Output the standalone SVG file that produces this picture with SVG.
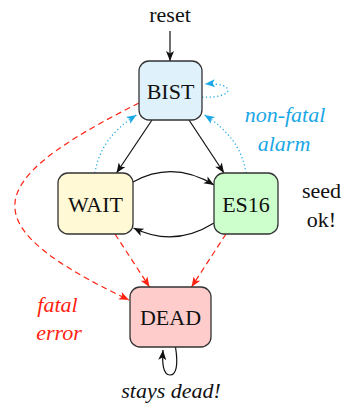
<svg xmlns="http://www.w3.org/2000/svg" width="346" height="406" viewBox="0 0 346 406">
<style>
text{font-size:22px;text-anchor:middle;fill:#111}
.it{font-style:italic}
.node{stroke:#333;stroke-width:1.3}
.k{fill:none;stroke:#111;stroke-width:1.2}
.r{fill:none;stroke:#f21;stroke-width:1.2;stroke-dasharray:6 4}
.b{fill:none;stroke:#1aa7e6;stroke-width:1.3;stroke-dasharray:1.2 2.6}
</style>
<defs>
<marker id="ak" markerUnits="userSpaceOnUse" markerWidth="11" markerHeight="9" refX="10" refY="4" orient="auto" overflow="visible"><path d="M0,0 L10,4 L0,8 L2.5,4 z" fill="#111"/></marker>
<marker id="ar" markerUnits="userSpaceOnUse" markerWidth="11" markerHeight="9" refX="10" refY="4" orient="auto" overflow="visible"><path d="M0,0 L10,4 L0,8 L2.5,4 z" fill="#f21"/></marker>
<marker id="ab" markerUnits="userSpaceOnUse" markerWidth="11" markerHeight="9" refX="10" refY="4" orient="auto" overflow="visible"><path d="M0,0 L10,4 L0,8 L2.5,4 z" fill="#1aa7e6"/></marker>
</defs>
<g id="connectors">
<path class="k" d="M170,31 L170,61" marker-end="url(#ak)"/>
<path class="k" d="M152,120 L116.5,173" marker-end="url(#ak)"/>
<path class="k" d="M189,120 L224,173" marker-end="url(#ak)"/>
<path class="k" d="M133,182 Q173,160 214,185" marker-end="url(#ak)"/>
<path class="k" d="M214,223 Q174,248 133.5,228" marker-end="url(#ak)"/>
<path class="k" d="M175.5,347 C178.5,366 176,375 170,375 C163,375 162,363 163,350" marker-end="url(#ak)"/>
<path class="r" d="M115,234 L149.5,287" marker-end="url(#ar)"/>
<path class="r" d="M226,234 L191.5,287" marker-end="url(#ar)"/>
<path class="r" d="M139,103 C-21,183 -28.5,225 129,300" marker-end="url(#ar)"/>
<path class="b" d="M202,97 C236,99 236,82 205,84" marker-end="url(#ab)"/>
<path class="b" d="M95,173 Q100,138 136.5,115" marker-end="url(#ab)"/>
<path class="b" d="M246,173 Q241,138 204.5,115" marker-end="url(#ab)"/>
</g>
<g font-family="Liberation Serif, DejaVu Serif, serif">
<g id="BIST"><rect class="node" x="139" y="61" width="63" height="59" rx="10" fill="#dff1fb"/><text x="170.5" y="99">BIST</text></g>
<g id="WAIT"><rect class="node" x="58" y="173" width="75" height="61" rx="10" fill="#fff9d6"/><text x="95.5" y="211.5">WAIT</text></g>
<g id="ES16"><rect class="node" x="214" y="173" width="64" height="61" rx="10" fill="#ccffcc"/><text x="246" y="211.5">ES16</text></g>
<g id="DEAD"><rect class="node" x="130" y="287" width="81" height="60" rx="10" fill="#ffcccc"/><text x="170.5" y="325">DEAD</text></g>
<g id="labels">
<text x="170" y="22">reset</text>
<text x="321.5" y="198">seed</text>
<text x="321.5" y="226.5">ok!</text>
<text class="it" x="285" y="121.5" style="fill:#1aa7e6">non-fatal</text>
<text class="it" x="284" y="151" style="fill:#1aa7e6">alarm</text>
<text class="it" x="57.5" y="311.5" style="fill:#f21">fatal</text>
<text class="it" x="59" y="339.5" style="fill:#f21">error</text>
<text class="it" x="171" y="398">stays dead!</text>
</g>
</g>
</svg>
